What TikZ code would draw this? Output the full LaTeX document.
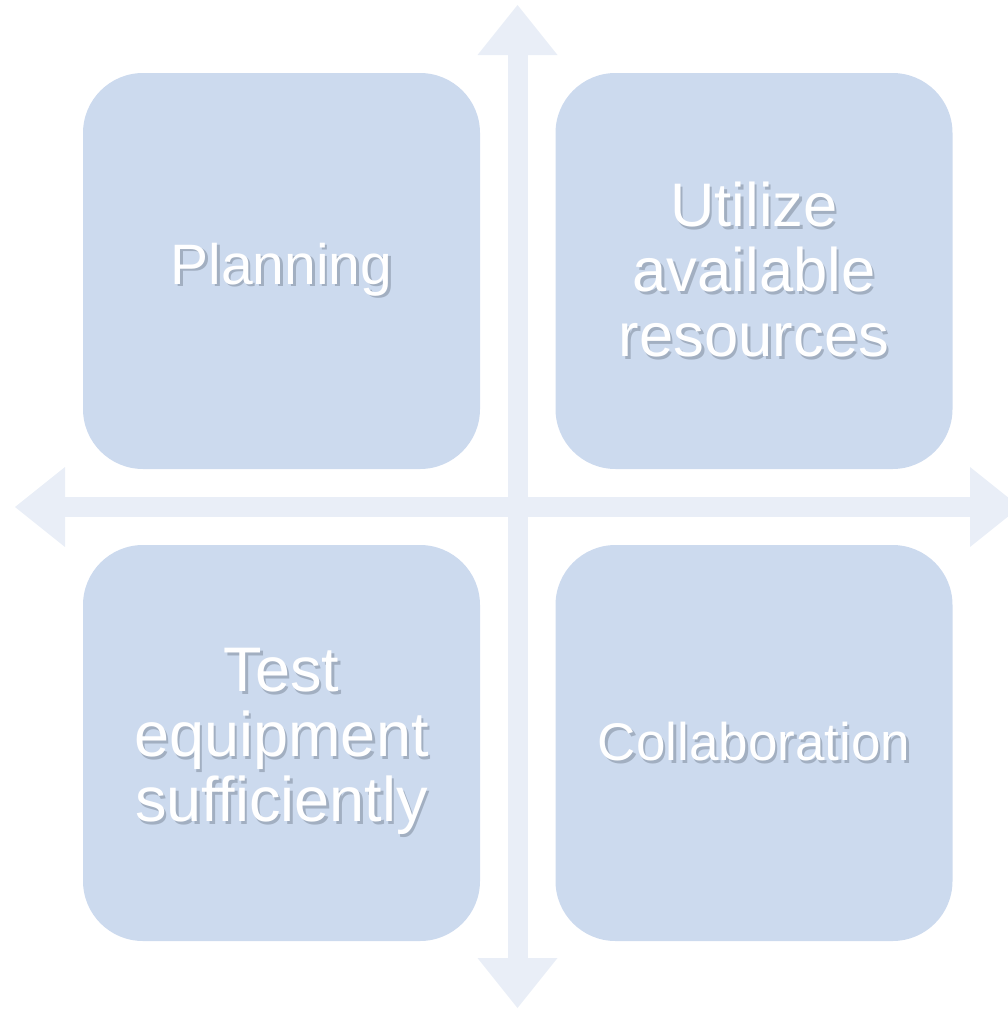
\documentclass[tikz,border=0pt]{standalone}
\usepackage{fontspec}
\setmainfont{Liberation Sans}
\usetikzlibrary{arrows.meta}

\definecolor{cellfill}{HTML}{CCDAEE}
\definecolor{axisfill}{HTML}{E9EEF7}
\definecolor{shadowbase}{HTML}{6F7A8A}
\colorlet{txtshadow}{shadowbase!45!cellfill}

% white word with a soft drop shadow behind it
\newcommand{\shd}[1]{\rlap{\kern2.5pt\raisebox{-2.5pt}{\textcolor{txtshadow}{#1}}}#1}

\begin{document}
\begin{tikzpicture}[x=1pt, y=-1pt,
  axis/.style={draw=axisfill, line width=20pt,
    {Triangle[width=80pt, length=50pt, line width=0pt]}-{Triangle[width=80pt, length=50pt, line width=0pt]}},
  cell/.style={fill=cellfill, text=white, align=center, rounded corners=60pt,
    minimum width=397pt, minimum height=396pt, inner sep=0pt}]

\useasboundingbox (0,0) rectangle (1007,1009);

% Axes
\coordinate (top) at (517.5,5);
\coordinate (bottom) at (517.5,1008);
\coordinate (left) at (15,507);
\coordinate (right) at (1020,507);
\draw[axis] (bottom) -- (top);
\draw[axis] (left) -- (right);

% Quadrants
\node[cell, font=\fontsize{57}{65}\selectfont] (plan) at (281.5,271) {\shd{Planning}};
\node[cell, font=\fontsize{61.5}{65}\selectfont] (util) at (754,271) {\shd{Utilize}\\\shd{available}\\\shd{resources}};
\node[cell, font=\fontsize{63}{65}\selectfont] (test) at (281.5,743) {\shd{Test}\\\shd{equipment}\\\shd{sufficiently}};
\node[cell, font=\fontsize{53}{65}\selectfont] (collab) at (754,743) {\shd{Collaboration}};

\end{tikzpicture}
\end{document}
